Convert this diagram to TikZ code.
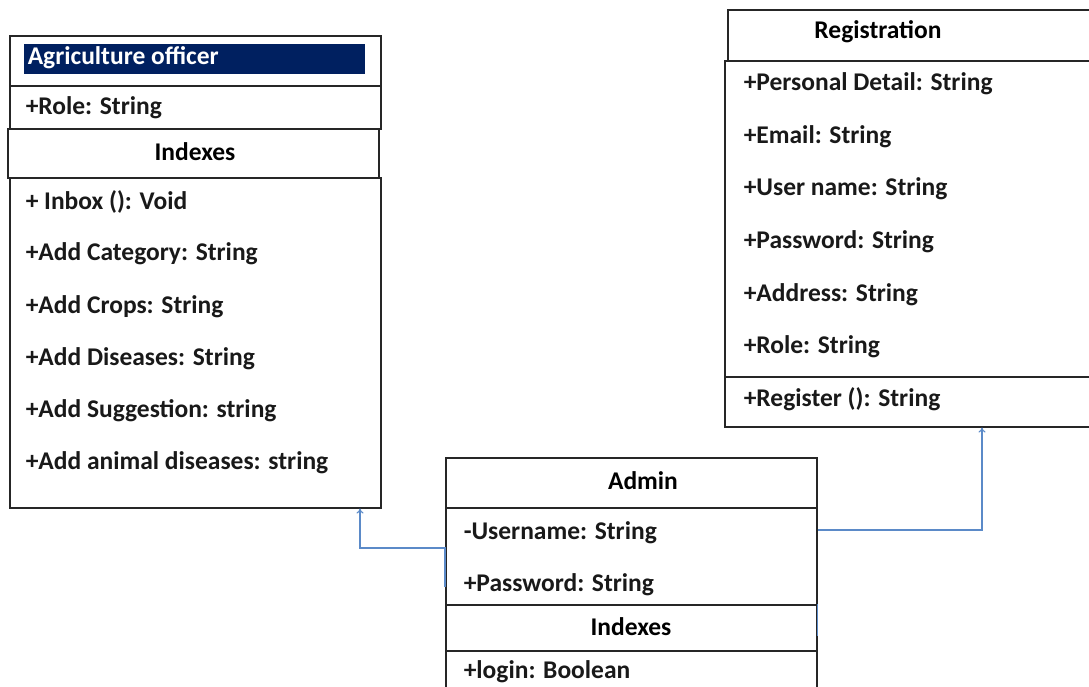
\documentclass[tikz,border=0pt]{standalone}
\usepackage{fontspec}
\setmainfont{Carlito}
\usetikzlibrary{arrows.meta}
\definecolor{umlnavy}{HTML}{002060}
\definecolor{umllink}{HTML}{5B8AC8}

\begin{document}
\begin{tikzpicture}[x=1pt, y=-1pt, line width=1.5pt,
    every node/.style={font=\fontsize{25.5}{30}\selectfont\bfseries},
    box/.style={rectangle, draw=black!85, anchor=north west, inner sep=0pt},
    item/.style={anchor=west, inner sep=0pt, text=black!90},
    link/.style={draw=umllink, line width=1.1pt}]
  \clip (0,0) rectangle (1089,686);

  % Agriculture officer
  \node[box, minimum width=371pt, minimum height=50pt] (agtop) at (9,35) {};
  \node[rectangle, fill=umlnavy, anchor=north west, minimum width=341pt, minimum height=30pt] (agname) at (23,43) {};
  \node[item, text=white] (agnametxt) at (27,58) {Agriculture officer};
  \node[box, minimum width=371pt, minimum height=43pt] (agattr) at (9,85) {};
  \node[item] (agrole) at (25,108) {+Role: String};
  \node[box, minimum width=371pt, minimum height=49pt] (agidx) at (7,128) {};
  \node (agidxtxt) at (195,152) {Indexes};
  \node[box, minimum width=371pt, minimum height=330pt] (agmeth) at (9,177) {};
  \node[item] (ag1) at (25,202) {+ Inbox (): Void};
  \node[item] (ag2) at (25,254) {+Add Category: String};
  \node[item] (ag3) at (25,307) {+Add Crops: String};
  \node[item] (ag4) at (25,359) {+Add Diseases: String};
  \node[item] (ag5) at (25,411) {+Add Suggestion: string};
  \node[item] (ag6) at (25,463) {+Add animal diseases: string};

  % Registration
  \node[box, minimum width=380pt, minimum height=51pt] (regtop) at (727,9) {};
  \node (regname) at (878,32) {Registration};
  \node[box, minimum width=380pt, minimum height=316pt] (regattr) at (724,60) {};
  \node[item] (reg1) at (743,84) {+Personal Detail: String};
  \node[item] (reg2) at (743,137) {+Email: String};
  \node[item] (reg3) at (743,189) {+User name: String};
  \node[item] (reg4) at (743,242) {+Password: String};
  \node[item] (reg5) at (743,295) {+Address: String};
  \node[item] (reg6) at (743,347) {+Role: String};
  \node[box, minimum width=380pt, minimum height=50pt] (regmeth) at (724,376) {};
  \node[item] (reg7) at (743,399) {+Register (): String};

  % Admin
  \node[box, minimum width=371pt, minimum height=50pt] (adtop) at (445,457) {};
  \node (adname) at (643,481) {Admin};
  \node[box, minimum width=371pt, minimum height=97pt] (adattr) at (445,507) {};
  \node[item] (ad1) at (463,533) {-Username: String};
  \node[item] (ad2) at (463,585) {+Password: String};
  \node[box, minimum width=371pt, minimum height=46pt] (adidx) at (445,604) {};
  \node (adidxtxt) at (631,627) {Indexes};
  \node[box, minimum width=371pt, minimum height=60pt] (admeth) at (445,650) {};
  \node[item] (ad3) at (463,672) {+login: Boolean};

  % links
  \coordinate (lstart) at (445,587);
  \coordinate (lbend) at (360,548);
  \coordinate (rbend) at (982,530);
  \draw[link, -{To[length=5pt, width=7pt]}] (lstart) |- (lbend) -- (lbend |- agmeth.south);
  \draw[link, -{To[length=5pt, width=7pt]}] (adattr.east |- rbend) -- (rbend) -- (rbend |- regmeth.south);
  \draw[link] (adidx.north east) -- ++(0,32);
\end{tikzpicture}
\end{document}
